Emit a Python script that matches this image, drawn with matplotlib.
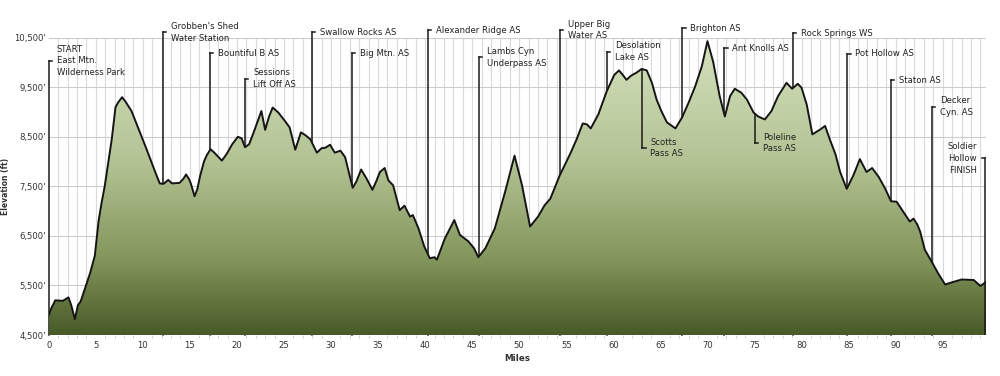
import numpy as np
import matplotlib
matplotlib.use("Agg")
import matplotlib.pyplot as plt
from matplotlib.colors import LinearSegmentedColormap

# ---- data ----
miles = [0.0, 0.3, 0.7, 1.5, 2.1, 2.4, 2.78, 3.1, 3.4, 4.0, 4.4, 4.9, 5.3, 5.6, 5.95,
         6.3, 6.7, 7.1, 7.4, 7.8, 8.2, 8.8, 9.3, 9.9, 10.4, 10.9, 11.4, 11.8, 12.2,
         12.7, 13.1, 13.9, 14.3, 14.6, 14.9, 15.1, 15.5, 15.8, 16.1, 16.5, 16.8, 17.2,
         17.6, 18.0, 18.4, 18.9, 19.5, 20.1, 20.5, 20.86, 21.3, 21.8, 22.6, 23.0, 23.4,
         23.8, 24.4, 25.1, 25.6, 26.2, 26.8, 27.3, 27.8, 28.5, 29.0, 29.4, 29.9, 30.4,
         31.0, 31.5, 32.3, 32.7, 33.2, 33.8, 34.4, 34.8, 35.2, 35.7, 36.1, 36.6, 37.3,
         37.8, 38.4, 38.7, 39.3, 39.9, 40.5, 41.0, 41.25, 42.1, 43.1, 43.7, 44.6, 45.2,
         45.65, 46.4, 47.4, 48.5, 49.5, 50.3, 51.15, 52.0, 52.7, 53.3, 54.3, 55.4, 56.1,
         56.75, 57.2, 57.6, 58.4, 59.3, 60.1, 60.6, 61.0, 61.4, 61.85, 62.5, 63.0, 63.55,
         64.1, 64.6, 65.1, 65.7, 66.6, 67.3, 68.0, 68.7, 69.4, 70.0, 70.6, 71.3, 71.85,
         72.4, 72.9, 73.6, 74.2, 74.9, 75.4, 76.1, 76.8, 77.5, 78.4, 79.0, 79.6, 80.0,
         80.55, 81.15, 82.0, 82.5, 83.0, 83.6, 84.1, 84.8, 85.5, 86.2, 86.9, 87.5, 88.2,
         88.9, 89.5, 90.1, 90.8, 91.5, 91.9, 92.3, 92.6, 93.1, 93.8, 94.5, 95.25, 96.1,
         97.0, 98.3, 99.0, 99.6]
elevation = [4900, 5050, 5200, 5190, 5260, 5100, 4820, 5100, 5180, 5520, 5750, 6100, 6800,
             7150, 7500, 7950, 8450, 9100, 9200, 9300, 9200, 9020, 8780, 8490, 8250, 8000,
             7750, 7560, 7550, 7630, 7560, 7570, 7650, 7740, 7650, 7560, 7300, 7450, 7720,
             8000, 8130, 8250, 8180, 8100, 8020, 8150, 8350, 8500, 8470, 8290, 8350, 8600,
             9020, 8640, 8900, 9090, 8990, 8820, 8690, 8240, 8590, 8530, 8450, 8180, 8270,
             8280, 8340, 8180, 8220, 8090, 7470, 7600, 7840, 7650, 7430, 7600, 7790, 7870,
             7620, 7520, 7020, 7110, 6890, 6920, 6650, 6290, 6050, 6070, 6020, 6450, 6820,
             6520, 6390, 6250, 6070, 6250, 6650, 7390, 8120, 7520, 6690, 6890, 7120, 7250,
             7720, 8150, 8450, 8770, 8750, 8670, 8950, 9420, 9750, 9840, 9750, 9650, 9730,
             9800, 9870, 9840, 9590, 9250, 9020, 8790, 8670, 8890, 9190, 9520, 9920, 10430,
             10020, 9320, 8910, 9320, 9470, 9390, 9250, 8990, 8910, 8850, 9020, 9320, 9590,
             9470, 9570, 9490, 9150, 8550, 8650, 8720, 8450, 8150, 7790, 7450, 7720, 8050,
             7790, 7870, 7690, 7450, 7200, 7190, 6990, 6790, 6850, 6730, 6590, 6220, 5990,
             5750, 5520, 5570, 5620, 5610, 5490, 5570]

# aid stations (above-curve labels)
top_labels = ["START\nEast Mtn.\nWilderness Park", "Grobben's Shed\nWater Station",
              "Bountiful B AS", "Sessions\nLift Off AS", "Swallow Rocks AS", "Big Mtn. AS",
              "Alexander Ridge AS", "Lambs Cyn\nUnderpass AS", "Upper Big\nWater AS",
              "Desolation\nLake AS", "Brighton AS", "Ant Knolls AS", "Rock Springs WS",
              "Pot Hollow AS", "Staton AS", "Decker\nCyn. AS"]
top_miles = [0.0, 12.11, 17.14, 20.86, 27.95, 32.2, 40.28, 45.73, 54.34, 59.3, 67.33,
             71.8, 79.06, 84.87, 89.5, 93.84]
top_label_y = [10034, 10608, 10188, 9674, 10608, 10188, 10654, 10108, 10654, 10220, 10688,
               10288, 10588, 10174, 9640, 9108]

# labels below the curve
low_labels = ["Scotts\nPass AS", "Poleline\nPass AS"]
low_miles = [63.08, 75.06]
low_label_y = [8274, 8374]

finish_label = "Soldier\nHollow\nFINISH"
finish_mile = 99.5
finish_label_y = 8068

yticks = [4500, 5500, 6500, 7500, 8500, 9500, 10500]
xticks = list(range(0, 100, 5))

# ---- figure ----
fig = plt.figure(figsize=(10, 3.76), dpi=100)
ax = fig.add_axes([0.0487, 0.109, 0.9373, 0.7907])
XMIN, XMAX, YMIN, YMAX = 0, 99.6, 4500, 10500
ax.set_xlim(XMIN, XMAX)
ax.set_ylim(YMIN, YMAX)

# grid
for m in range(1, 100):
    ax.axvline(m, color="#dadada", lw=0.8, zorder=0)
for y in yticks:
    ax.axhline(y, color="#cccccc", lw=0.8, zorder=0)

# gradient fill
cmap = LinearSegmentedColormap.from_list(
    "elev", [(0.0, "#485a27"), (0.25, "#82955a"), (0.58, "#b3c394"), (1.0, "#d5e1be")])
grad = np.linspace(0, 1, 256).reshape(-1, 1)
poly = ax.fill_between(miles, elevation, YMIN, color="none", lw=0, zorder=2)
im = ax.imshow(grad, cmap=cmap, origin="lower", aspect="auto",
               extent=[XMIN, XMAX, YMIN, YMAX], zorder=2, interpolation="bilinear")
path = poly.get_paths()[0]
im.set_clip_path(path, transform=ax.transData)
ax.plot(miles, elevation, color="#151515", lw=1.4, zorder=4, solid_joinstyle="round")

font = dict(family="DejaVu Sans", fontsize=6.1, color="#222222", linespacing=1.4)
tick_len = 0.35
txt_off = 0.85

for lab, m, ty in zip(top_labels, top_miles, top_label_y):
    ax.plot([m, m], [YMIN, ty], color="#1a1a1a", lw=1.1, zorder=1.5, clip_on=False)
    ax.plot([m, m + tick_len], [ty, ty], color="#1a1a1a", lw=1.1, zorder=1.5, clip_on=False)
    ax.text(m + txt_off, ty, lab, ha="left", va="center", clip_on=False, zorder=5, **font)

for lab, m, ty in zip(low_labels, low_miles, low_label_y):
    top = np.interp(m, miles, elevation)
    ax.plot([m, m], [ty, top], color="#1a1a1a", lw=1.1, zorder=3)
    ax.plot([m, m + tick_len], [ty, ty], color="#1a1a1a", lw=1.1, zorder=3)
    ax.text(m + txt_off, ty, lab, ha="left", va="center", zorder=5, **font)

ax.plot([finish_mile, finish_mile], [YMIN, finish_label_y], color="#1a1a1a", lw=1.1, zorder=3)
ax.plot([finish_mile, finish_mile - tick_len], [finish_label_y, finish_label_y],
        color="#1a1a1a", lw=1.1, zorder=3)
ax.text(finish_mile - txt_off, finish_label_y, finish_label, ha="right", va="center",
        zorder=5, **font)

# axes styling
for s in ax.spines.values():
    s.set_visible(False)
ax.set_yticks(yticks)
ax.set_yticklabels([f"{v:,}'" for v in yticks])
ax.set_xticks(xticks)
ax.set_xticks(range(0, 100), minor=True)
ax.tick_params(axis="both", which="major", labelsize=6.1, labelcolor="#333333", length=0, pad=4)
ax.tick_params(axis="x", which="minor", length=2, color="#cccccc")
ax.tick_params(axis="y", pad=2)
ax.set_xlabel("Miles", fontsize=6.3, fontweight="bold", color="#333333", labelpad=3)
ax.set_ylabel("Elevation (ft)", fontsize=5.5, fontweight="bold", color="#333333", labelpad=3)

fig.savefig("out.png", dpi=100)
